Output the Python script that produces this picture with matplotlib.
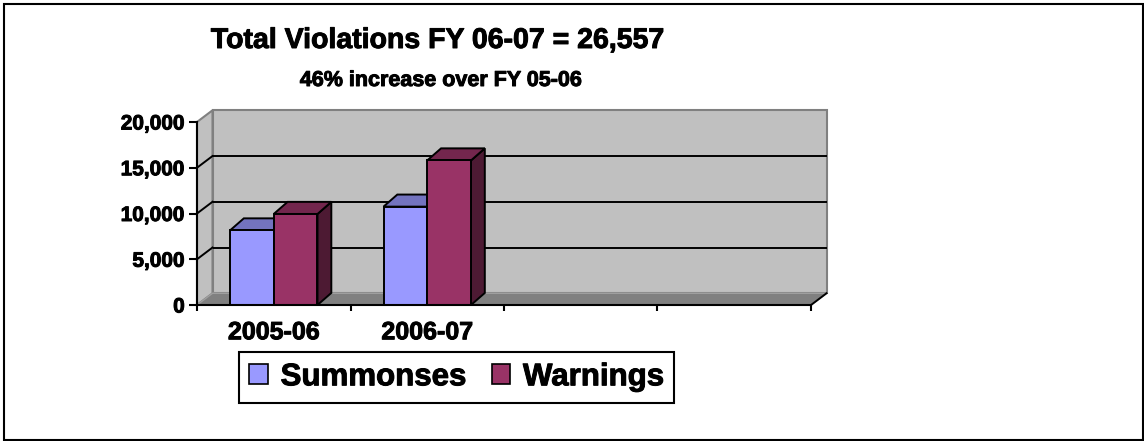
import matplotlib
matplotlib.use("Agg")
import matplotlib.pyplot as plt
import matplotlib.patheffects as pe
from matplotlib.patches import Polygon, Patch, Rectangle
from matplotlib.ticker import FuncFormatter

plt.rcParams['font.family'] = ['Liberation Sans', 'DejaVu Sans']
plt.rcParams['font.weight'] = 'bold'

# ---- data ----
categories = ['2005-06', '2006-07', '', '']
series_names = ['Summonses', 'Warnings']
summonses = [8150, 10750]
warnings = [9950, 15800]
y_ticks = [0, 5000, 10000, 15000, 20000]
title = 'Total Violations FY 06-07 = 26,557'
subtitle = '46% increase over FY 05-06'

# ---- styles ----
front_cols = ['#9999FF', '#993366']
top_cols = ['#7373BF', '#73264D']
side_cols = ['#4D4D80', '#4D1A33']
wall_col = '#C0C0C0'
wall_edge = '#808080'
floor_col = '#808080'
heavy = [pe.withStroke(linewidth=0.7, foreground='black')]

W, H = 1144, 441
fig = plt.figure(figsize=(W / 100, H / 100), dpi=100)

# outer border
fig.patches.append(Rectangle((3.7 / W, 1 - 439.5 / H), (1143 - 3.7) / W, (439.5 - 4.3) / H,
                             transform=fig.transFigure, fill=False, edgecolor='black',
                             linewidth=1.5, zorder=0))

ax = fig.add_axes([197 / W, (H - 305) / H, 614 / W, 183 / H])
ncat = len(categories)
ymax = y_ticks[-1]
ax.set_xlim(0, ncat)
ax.set_ylim(0, ymax)
ax.patch.set_visible(False)

DXW, DYW = 0.101, 1280     # wall depth offset (data units)
DXB, DYB = 0.09, 1320      # bar depth offset

def poly(pts, fc, ec, lw=1.2, z=1):
    p = Polygon(pts, closed=True, facecolor=fc, edgecolor=ec, linewidth=lw,
                joinstyle='miter', clip_on=False, zorder=z)
    ax.add_patch(p)

# back wall
poly([(DXW, DYW), (ncat + DXW, DYW), (ncat + DXW, ymax + DYW), (DXW, ymax + DYW)],
     wall_col, wall_edge, lw=1.5, z=1)
# side wall
poly([(0, 0), (DXW, DYW), (DXW, ymax + DYW), (0, ymax)], wall_col, wall_edge, lw=1.5, z=1)
# floor
poly([(0, 0), (ncat, 0), (ncat + DXW, DYW), (DXW, DYW)], floor_col, '#A0A0A0', lw=1.0, z=1.5)

# gridlines on back and side wall
for v in y_ticks[1:-1]:
    ax.plot([DXW, ncat + DXW], [v + DYW, v + DYW], color='black', lw=1.4, zorder=2,
            clip_on=False, solid_capstyle='butt')
    ax.plot([0, DXW], [v, v + DYW], color='black', lw=1.4, zorder=2, clip_on=False)
# right end of floor edge
ax.plot([ncat, ncat + DXW], [0, DYW], color='black', lw=1.4, zorder=6, clip_on=False)

# bars
bw = 0.285
off = 0.215
for i in range(len(summonses)):
    for s_idx, vals in enumerate([summonses, warnings]):
        h = vals[i]
        x0 = i + off + s_idx * bw
        z = 3 + i * 0.1 + s_idx * 0.01
        poly([(x0 + bw, 0), (x0 + bw + DXB, DYB), (x0 + bw + DXB, h + DYB), (x0 + bw, h)],
             side_cols[s_idx], 'black', lw=1.4, z=z)
        poly([(x0, h), (x0 + bw, h), (x0 + bw + DXB, h + DYB), (x0 + DXB, h + DYB)],
             top_cols[s_idx], 'black', lw=1.4, z=z)
        poly([(x0, 0), (x0 + bw, 0), (x0 + bw, h), (x0, h)],
             front_cols[s_idx], 'black', lw=1.4, z=z)

# axes / ticks
for sp in ['top', 'right']:
    ax.spines[sp].set_visible(False)
for sp in ['left', 'bottom']:
    ax.spines[sp].set_linewidth(1.5)
    ax.spines[sp].set_zorder(7)
ax.set_yticks(y_ticks)
ax.yaxis.set_major_formatter(FuncFormatter(lambda v, p: f'{int(v):,}'))
ax.tick_params(axis='y', direction='out', length=5.8, width=1.5, pad=3, labelsize=15)
ax.set_xticks(range(ncat + 1))
ax.set_xticklabels([''] * (ncat + 1))
ax.tick_params(axis='x', which='major', direction='out', length=4.5, width=1.5)
ax.set_xticks([i + 0.5 for i in range(ncat)], minor=True)
ax.set_xticklabels(categories, minor=True)
ax.tick_params(axis='x', which='minor', length=0, pad=11, labelsize=18)
for lab in ax.get_xticklabels(minor=True) + ax.get_yticklabels():
    lab.set_fontweight('bold')
    lab.set_path_effects(heavy)

# titles
fig.text(437.5 / W, 1 - 48 / H, title, ha='center', va='baseline', fontsize=20.5,
         fontweight='bold', path_effects=heavy)
fig.text(441 / W, 1 - 86 / H, subtitle, ha='center', va='baseline', fontsize=15.5,
         fontweight='bold', path_effects=heavy)

# legend
handles = [Patch(facecolor=front_cols[k], edgecolor='black', linewidth=1.2)
           for k in range(len(series_names))]
leg = fig.legend(handles, series_names, loc='center',
                 bbox_to_anchor=(456.7 / W, 1 - 377.3 / H), ncol=2,
                 prop={'weight': 'bold', 'size': 22.5}, frameon=True, fancybox=False,
                 edgecolor='black', framealpha=1, handlelength=0.6, handleheight=0.6,
                 handletextpad=0.4, columnspacing=0.8, borderpad=0.33)
leg.get_frame().set_linewidth(1.5)
for t in leg.get_texts():
    t.set_path_effects(heavy)

fig.savefig('out.png', dpi=100)
